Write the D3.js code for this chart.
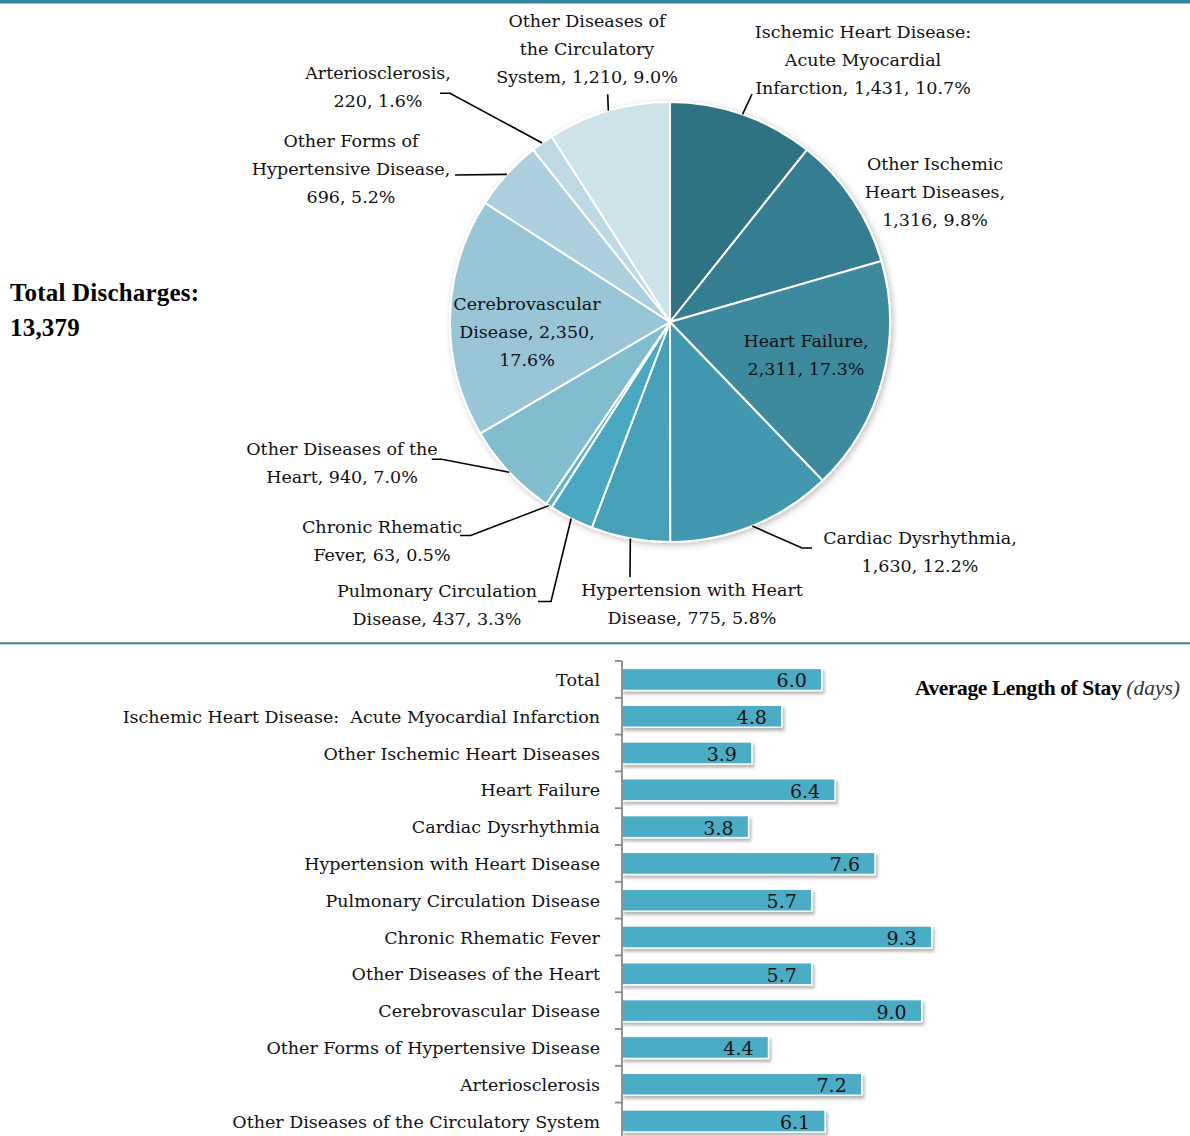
<!DOCTYPE html>
<html><head><meta charset="utf-8">
<script src="https://cdn.jsdelivr.net/npm/d3@7"></script>
<style>
html,body{margin:0;padding:0;background:#fff;}
svg{display:block;font-family:"DejaVu Serif","Liberation Serif",serif;}
</style></head>
<body>
<svg id="chart" width="1190" height="1136"></svg>
<script>
// ---------- DATA ----------
const pieCategories = [
  "Ischemic Heart Disease: Acute Myocardial Infarction",
  "Other Ischemic Heart Diseases",
  "Heart Failure",
  "Cardiac Dysrhythmia",
  "Hypertension with Heart Disease",
  "Pulmonary Circulation Disease",
  "Chronic Rhematic Fever",
  "Other Diseases of the Heart",
  "Cerebrovascular Disease",
  "Other Forms of Hypertensive Disease",
  "Arteriosclerosis",
  "Other Diseases of the Circulatory System"
];
const pieValues = [1431, 1316, 2311, 1630, 775, 437, 63, 940, 2350, 696, 220, 1210];
const piePercents = ["10.7%","9.8%","17.3%","12.2%","5.8%","3.3%","0.5%","7.0%","17.6%","5.2%","1.6%","9.0%"];
const pieLabelLines = [
  ["Ischemic Heart Disease:","Acute Myocardial","Infarction, 1,431, 10.7%"],
  ["Other Ischemic","Heart Diseases,","1,316, 9.8%"],
  ["Heart Failure,","2,311, 17.3%"],
  ["Cardiac Dysrhythmia,","1,630, 12.2%"],
  ["Hypertension with Heart","Disease, 775, 5.8%"],
  ["Pulmonary Circulation","Disease, 437, 3.3%"],
  ["Chronic Rhematic","Fever, 63, 0.5%"],
  ["Other Diseases of the","Heart, 940, 7.0%"],
  ["Cerebrovascular","Disease, 2,350,","17.6%"],
  ["Other Forms of","Hypertensive Disease,","696, 5.2%"],
  ["Arteriosclerosis,","220, 1.6%"],
  ["Other Diseases of","the Circulatory","System, 1,210, 9.0%"]
];
const totalDischarges = "13,379";

const barCategories = [
  "Total",
  "Ischemic Heart Disease:\u00a0\u00a0Acute Myocardial Infarction",
  "Other Ischemic Heart Diseases",
  "Heart Failure",
  "Cardiac Dysrhythmia",
  "Hypertension with Heart Disease",
  "Pulmonary Circulation Disease",
  "Chronic Rhematic Fever",
  "Other Diseases of the Heart",
  "Cerebrovascular Disease",
  "Other Forms of Hypertensive Disease",
  "Arteriosclerosis",
  "Other Diseases of the Circulatory System"
];
const barValues = [6.0, 4.8, 3.9, 6.4, 3.8, 7.6, 5.7, 9.3, 5.7, 9.0, 4.4, 7.2, 6.1];

// ---------- STYLE / LAYOUT ----------
const pieColors = ["#2e7283","#367e91","#3d8a9f","#4298ae","#45a0b8","#4aa9c3",
                   "#62b2c8","#81bccf","#98c6d6","#acd0de","#bdd9e3","#cde2e9"];
const pieLabelLayout = [
  {x:863, y:31,  leader:[[752,94]]},
  {x:935, y:163, leader:null},
  {x:806, y:340, leader:null},
  {x:920, y:537, leader:[[802,548],[812,548]]},
  {x:692, y:589, leader:[[630,577]]},
  {x:437, y:590, leader:[[551,601.5],[538,601.5]]},
  {x:382, y:526, leader:[[470.7,535.5],[460,535.5]]},
  {x:342, y:448, leader:[[441.7,459.3],[431.7,459.3]]},
  {x:527, y:303, leader:null},
  {x:351, y:140, leader:[[455,175]]},
  {x:378, y:72,  leader:[[450,93.3],[440,93.3]]},
  {x:587, y:20,  leader:[[607.7,94.3]]}
];
const cx = 670, cy = 322, R = 220;
const lineH = 28;
const labelFont = 17.5;
const teal = "#31849b";
const barColor = "#4bacc6";

const svg = d3.select("#chart");
const defs = svg.append("defs");
const f1 = defs.append("filter").attr("id","pieShadow").attr("x","-20%").attr("y","-20%").attr("width","140%").attr("height","140%");
f1.append("feDropShadow").attr("dx",2).attr("dy",2).attr("stdDeviation",3).attr("flood-color","#000").attr("flood-opacity",0.25);
const f2 = defs.append("filter").attr("id","barShadow").attr("x","-5%").attr("y","-30%").attr("width","110%").attr("height","180%");
f2.append("feDropShadow").attr("dx",2).attr("dy",3).attr("stdDeviation",1.5).attr("flood-color","#000").attr("flood-opacity",0.28);

svg.append("rect").attr("x",0).attr("y",0).attr("width",1190).attr("height",3.5).attr("fill",teal);
svg.append("rect").attr("x",0).attr("y",642.3).attr("width",1190).attr("height",2).attr("fill",teal);

// ---------- PIE ----------
const pie = d3.pie().sort(null).value(d => d)(pieValues);
const arc = d3.arc().innerRadius(0).outerRadius(R);
const gPie = svg.append("g").attr("transform",`translate(${cx},${cy})`);
gPie.append("g").attr("filter","url(#pieShadow)")
  .selectAll("path").data(pie).join("path")
  .attr("d",arc).attr("fill",(d,i)=>pieColors[i])
  .attr("stroke","#fff").attr("stroke-width",2).attr("stroke-linejoin","round");

const gLab = svg.append("g");
pie.forEach((d,i)=>{
  const L = pieLabelLayout[i];
  if(!L.leader) return;
  const a = (d.startAngle + d.endAngle)/2;
  const start = [cx + R*Math.sin(a), cy - R*Math.cos(a)];
  gLab.append("path").attr("d", d3.line()([start, ...L.leader]))
    .attr("fill","none").attr("stroke","#000").attr("stroke-width",1.6);
});
pieLabelLines.forEach((lines,i)=>{
  const L = pieLabelLayout[i];
  const t = gLab.append("text").attr("text-anchor","middle").attr("font-size",labelFont).attr("fill","#111");
  lines.forEach((s,k)=>{
    t.append("tspan").attr("x",L.x).attr("y",L.y + k*lineH).attr("dy","0.4em").text(s);
  });
});

const tt = svg.append("text").attr("font-family","'Liberation Serif',serif").attr("font-size",25).attr("font-weight","bold").attr("letter-spacing",0.2).attr("fill","#000");
tt.append("tspan").attr("x",10).attr("y",301).text("Total Discharges:");
tt.append("tspan").attr("x",10).attr("y",336).text(totalDischarges);

// ---------- BARS ----------
const axisX = 622;
const y = d3.scaleBand().domain(barCategories).range([661, 1139.4]).paddingInner(0.4).paddingOuter(0.2);
const x = d3.scaleLinear().domain([0,10]).range([axisX, axisX+333]);
const gBar = svg.append("g");
gBar.selectAll("rect.bar").data(barValues).join("rect").attr("class","bar")
  .attr("x",x(0)).attr("y",(d,i)=>y(barCategories[i]))
  .attr("width",d=>x(d)-x(0)).attr("height",y.bandwidth())
  .attr("fill",barColor).attr("stroke","#fff").attr("stroke-width",1.5)
  .attr("filter","url(#barShadow)");
gBar.selectAll("text.val").data(barValues).join("text").attr("class","val")
  .attr("x",d=>x(d)-15).attr("y",(d,i)=>y(barCategories[i])+y.bandwidth()/2)
  .attr("dy","0.42em").attr("text-anchor","end").attr("font-size",19).attr("fill","#111")
  .text(d=>d.toFixed(1));

const gAx = svg.append("g").attr("transform",`translate(${axisX},0)`);
gAx.call(d3.axisLeft(y).tickSize(0).tickPadding(22).tickFormat(d=>d));
gAx.select(".domain").remove();
gAx.selectAll(".tick text").attr("font-size",labelFont).attr("fill","#111")
  .attr("font-family","'DejaVu Serif','Liberation Serif',serif").attr("dy","0.38em");
const step = y.step();
const y0 = y.range()[0];
gAx.append("line").attr("x1",0).attr("x2",0).attr("y1",y0).attr("y2",1136).attr("stroke","#8a8a8a").attr("stroke-width",1.8);
gAx.selectAll("line.tk").data(d3.range(barCategories.length+1)).join("line").attr("class","tk")
  .attr("x1",-7).attr("x2",0).attr("y1",i=>y0+i*step).attr("y2",i=>y0+i*step)
  .attr("stroke","#8a8a8a").attr("stroke-width",1.8);

const lt = svg.append("text").attr("x",1180).attr("y",695).attr("text-anchor","end").attr("font-family","'Liberation Serif',serif").attr("font-size",21.5).attr("fill","#000");
lt.append("tspan").attr("font-weight","bold").attr("letter-spacing",-0.4).text("Average Length of Stay ");
lt.append("tspan").attr("font-style","italic").attr("fill","#333").text("(days)");
</script>
</body></html>
